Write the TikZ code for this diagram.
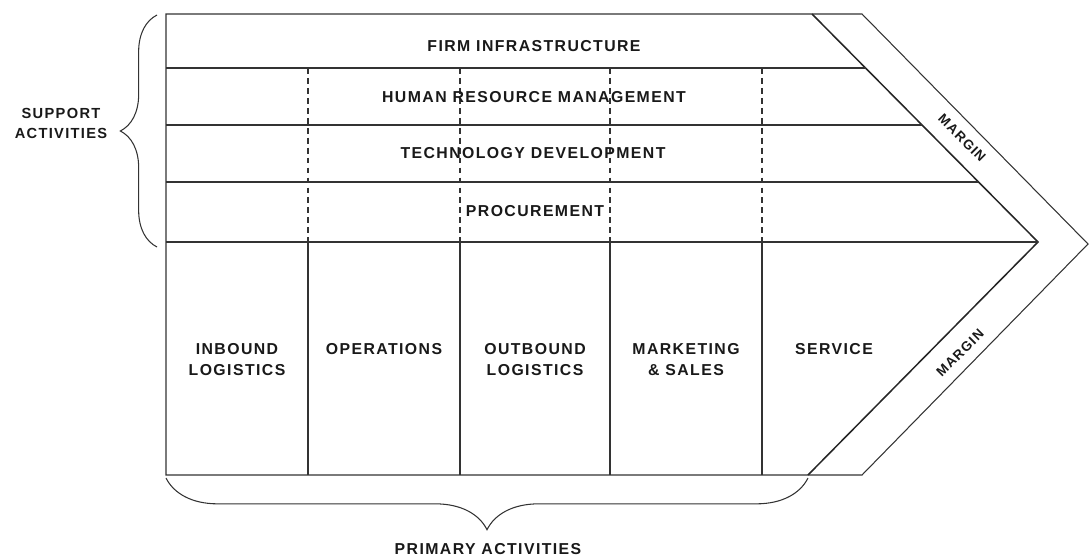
\documentclass[tikz,border=0pt]{standalone}
\usepackage{fontspec}
\newfontfamily\chainfont{Liberation Sans}[LetterSpace=9]
\usetikzlibrary{decorations.pathreplacing}

\begin{document}
\begin{tikzpicture}[x=0.03cm,y=-0.03cm,
    chain line/.style={line width=0.9pt, draw=black!80},
    margin line/.style={line width=1.3pt, draw=black!85},
    divider/.style={chain line, dash pattern=on 5pt off 3.5pt},
    activity/.style={font=\chainfont\bfseries\fontsize{13.5}{18}\selectfont, text=black!90, align=center, inner sep=0pt},
    margin text/.style={activity, font=\chainfont\bfseries\fontsize{11.5}{14}\selectfont, rotate=#1},
    bracket/.style={chain line, decorate, decoration={brace, amplitude=#1}}
    ]
    \useasboundingbox (0,0) rectangle (1091,558);

    % outer arrow shape and the margin band
    \draw [chain line] (166,14) -- (862,14) -- (1088,244) -- (862,475) -- (166,475) -- cycle;
    \draw [margin line] (812,14) -- (1038,242) -- (808,475);

    % support rows
    \draw [chain line] (166,68) -- (866,68);
    \draw [chain line] (166,125) -- (922,125);
    \draw [chain line] (166,182) -- (978,182);
    \draw [chain line] (166,242) -- (1038,242);

    % columns: dashed through the support rows, solid below
    \foreach \x in {308,460,610,762} {
        \draw [divider] (\x,68) -- (\x,242);
        \draw [chain line] (\x,242) -- (\x,475);
    }

    \node [activity] (firm) at (534,46) {FIRM INFRASTRUCTURE};
    \node [activity] (hrm) at (534,97) {HUMAN RESOURCE MANAGEMENT};
    \node [activity] (tech) at (533,153) {TECHNOLOGY DEVELOPMENT};
    \node [activity] (proc) at (535,211) {PROCUREMENT};

    \node [activity] (inbound) at (237,359.5) {INBOUND\\LOGISTICS};
    \node [activity] (ops) at (384,349) {OPERATIONS};
    \node [activity] (outbound) at (535,359.5) {OUTBOUND\\LOGISTICS};
    \node [activity] (sales) at (686,359.5) {MARKETING\\\& SALES};
    \node [activity] (service) at (834,349) {SERVICE};

    \node [margin text=-45] (margin top) at (962,138) {MARGIN};
    \node [margin text=45] (margin bottom) at (960,353) {MARGIN};

    % braces
    \draw [bracket=1.1cm] (157,247) -- (157,15);
    \draw [bracket=1.55cm] (808,478) -- (166,478);
    \node [activity, font=\chainfont\bfseries\fontsize{12.5}{17}\selectfont] (support) at (61,123) {SUPPORT\\ACTIVITIES};
    \node [activity] (primary) at (488,549) {PRIMARY ACTIVITIES};
\end{tikzpicture}
\end{document}
